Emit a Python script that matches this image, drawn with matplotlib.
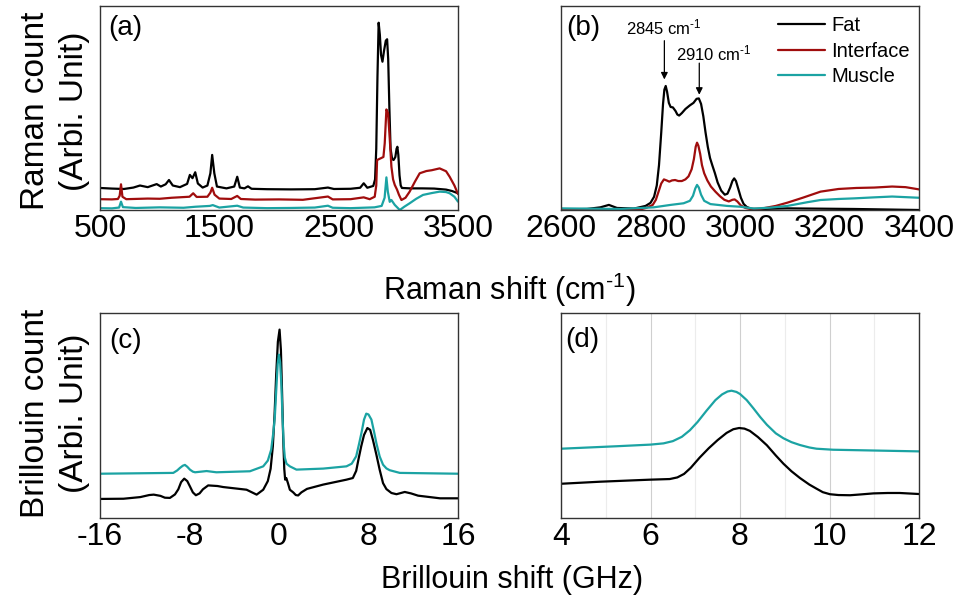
import numpy as np
import matplotlib
matplotlib.use("Agg")
import matplotlib.pyplot as plt

plt.rcParams["font.family"] = ["Liberation Sans", "DejaVu Sans"]
plt.rcParams["mathtext.fontset"] = "custom"
plt.rcParams["mathtext.rm"] = "Liberation Sans"
plt.rcParams["mathtext.it"] = "Liberation Sans"
plt.rcParams["axes.unicode_minus"] = False

# (a) Raman, full range (offset curves)
raman_a_fat_x = [500, 600, 700, 780, 835, 900, 975, 1010, 1050, 1078, 1110, 1170, 1230, 1253, 1275,
                 1298, 1320, 1360, 1400, 1425, 1440, 1458, 1480, 1560, 1625, 1650, 1672, 1710, 1740,
                 1770, 1900, 2100, 2300, 2410, 2460, 2600, 2680, 2710, 2740, 2790, 2805, 2815, 2825,
                 2835, 2845, 2855, 2867, 2880, 2895, 2906, 2915, 2925, 2935, 2948, 2960, 2975, 2985,
                 2992, 3000, 3010, 3020, 3030, 3100, 3200, 3300, 3400, 3450, 3500]
raman_a_fat_y = [10.8, 10.5, 10.3, 11.0, 12.0, 11.2, 12.7, 11.5, 12.6, 14.7, 12.0, 11.2, 12.8, 17.2, 15.6,
                 18.5, 13.0, 11.0, 12.0, 18.0, 27.0, 18.0, 11.5, 10.6, 11.5, 16.3, 11.0, 10.6, 11.6,
                 10.4, 10.2, 10.1, 10.2, 11.0, 10.3, 10.4, 10.9, 13.1, 10.9, 11.8, 15.0, 30.0, 65.0,
                 91.8, 86.0, 76.0, 72.7, 78.0, 83.0, 83.7, 74.0, 50.0, 30.0, 25.0, 24.5, 26.0, 30.0,
                 31.0, 27.0, 17.0, 12.0, 10.8, 10.6, 10.6, 10.5, 10.0, 9.3, 8.2]

raman_a_int_x = [500, 600, 650, 665, 676, 688, 720, 900, 1000, 1100, 1250, 1281, 1310, 1400, 1425, 1440,
                 1460, 1500, 1600, 1650, 1680, 1800, 2000, 2200, 2410, 2450, 2600, 2710, 2760, 2802,
                 2815, 2822, 2840, 2858, 2875, 2886, 2900, 2914, 2928, 2942, 2956, 2970, 2989, 3005,
                 3026, 3060, 3095, 3140, 3179, 3235, 3280, 3346, 3400, 3430, 3470, 3500]
raman_a_int_y = [5.3, 5.2, 5.4, 7.0, 12.6, 6.5, 5.3, 5.6, 5.5, 6.0, 6.5, 8.2, 6.4, 6.5, 8.5, 10.9,
                 7.5, 5.6, 5.4, 6.9, 5.4, 5.1, 5.2, 5.0, 6.6, 5.2, 5.3, 6.2, 5.3, 6.5,
                 12.0, 24.5, 25.0, 25.5, 26.0, 32.7, 49.3, 47.4, 35.0, 21.2, 15.0, 12.3, 10.0, 7.5,
                 4.9, 6.0, 9.0, 14.0, 18.0, 19.1, 19.5, 20.4, 19.0, 16.3, 12.0, 7.8]

raman_a_mus_x = [500, 600, 660, 676, 692, 800, 1000, 1200, 1300, 1420, 1445, 1500, 1650, 1700, 1900,
                 2100, 2300, 2410, 2450, 2600, 2800, 2860, 2885, 2900, 2912, 2928, 2942, 2970, 3012,
                 3050, 3095, 3150, 3207, 3280, 3346, 3400, 3430, 3470, 3500]
raman_a_mus_y = [0.9, 0.8, 1.2, 4.1, 1.4, 1.0, 1.3, 1.1, 1.6, 2.0, 2.4, 1.2, 2.1, 1.2, 0.9,
                 1.0, 1.2, 2.1, 1.1, 0.9, 1.3, 2.0, 6.0, 16.0, 9.0, 4.0, 4.9, 2.5, 0.0,
                 1.6, 3.3, 5.5, 7.4, 8.3, 9.0, 8.8, 8.2, 6.5, 4.1]

# (b) Raman, CH stretching region
raman_b_fat_x = [2600, 2658, 2688, 2707, 2725, 2763, 2789, 2800, 2808, 2814, 2819, 2824, 2828, 2831,
                 2834, 2837, 2841, 2845, 2850, 2856, 2860, 2864, 2870, 2878, 2888, 2896, 2903, 2908,
                 2913, 2918, 2923, 2928, 2933, 2938, 2944, 2950, 2958, 2966, 2972, 2978, 2983, 2987,
                 2991, 2996, 3002, 3008, 3015, 3025, 3040, 3106, 3255, 3400]
raman_b_fat_y = [0.3, 0.5, 1.3, 2.5, 1.0, 0.7, 2.0, 3.5, 6.5, 12.0, 22.0, 38.0, 52.0, 59.0,
                 60.8, 58.0, 52.5, 50.5, 50.3, 48.5, 46.8, 46.3, 47.5, 49.5, 51.3, 52.5, 54.5, 54.7,
                 52.0, 46.0, 38.0, 31.0, 25.5, 22.0, 18.0, 13.5, 9.5, 7.5, 8.0, 11.0, 14.2, 15.5,
                 14.2, 10.5, 6.0, 3.0, 1.5, 0.6, 0.5, 0.8, 0.5, 0.0]

raman_b_int_x = [2600, 2777, 2790, 2805, 2812, 2818, 2824, 2830, 2836, 2842, 2848, 2855, 2862, 2870,
                 2878, 2885, 2892, 2897, 2901, 2904, 2907, 2911, 2915, 2920, 2927, 2935, 2945, 2955,
                 2965, 2975, 2983, 2988, 2994, 3002, 3012, 3025, 3046, 3080, 3106, 3140, 3180, 3220,
                 3260, 3300, 3340, 3370, 3400]
raman_b_int_y = [0.0, 0.3, 1.0, 2.5, 5.0, 9.0, 13.0, 15.0, 14.5, 13.9, 14.5, 14.7, 14.2, 14.2,
                 15.0, 16.5, 20.0, 25.0, 31.0, 33.0, 31.5, 27.5, 22.0, 18.0, 14.5, 11.5, 9.0, 6.8,
                 5.0, 4.2, 5.0, 5.2, 4.2, 2.2, 1.0, 0.4, 0.6, 2.0, 3.6, 6.0, 9.0, 10.3,
                 10.8, 11.0, 11.5, 11.2, 10.1]

raman_b_mus_x = [2600, 2733, 2807, 2845, 2874, 2888, 2895, 2900, 2904, 2908, 2913, 2920, 2934, 2971,
                 3001, 3031, 3070, 3106, 3150, 3180, 3220, 3255, 3300, 3340, 3400]
raman_b_mus_y = [0.8, 0.5, 1.3, 2.5, 3.3, 4.5, 7.0, 10.5, 12.3, 11.0, 7.5, 4.5, 2.9, 2.0,
                 1.6, 0.7, 1.2, 2.0, 3.8, 4.9, 5.4, 5.7, 6.2, 6.6, 6.0]

# (c) Brillouin, full range
bril_c_fat_x = [-16, -13.9, -12.4, -11.6, -11.2, -10.6, -10.2, -9.75, -9.3, -9.0, -8.75, -8.47, -8.2,
                -7.96, -7.7, -7.43, -7.1, -6.8, -6.33, -5.5, -4.99, -2.9, -2.0, -1.41, -1.0, -0.75,
                -0.55, -0.4, -0.25, -0.1, 0.05, 0.17, 0.27, 0.37, 0.47, 0.55, 0.65, 0.8, 0.97, 1.27,
                1.5, 1.71, 2.0, 2.5, 3.95, 6.03, 6.6, 6.9, 7.1, 7.35, 7.6, 7.9, 8.15, 8.4, 8.7, 9.0,
                9.3, 9.6, 10.05, 10.5, 11.24, 11.8, 12.43, 14.4, 16]
bril_c_fat_y = [9.3, 9.4, 10.2, 11.2, 11.4, 10.8, 9.9, 9.8, 11.5, 14.0, 17.5, 19.2, 18.0,
                15.4, 12.5, 11.1, 12.0, 14.0, 15.9, 15.6, 15.1, 13.8, 11.4, 13.8, 18.0, 24.0,
                35.0, 50.0, 70.0, 86.0, 91.9, 82.0, 62.0, 40.0, 24.0, 18.7, 19.5, 17.0, 13.8, 12.5,
                11.2, 11.0, 12.5, 14.2, 16.3, 18.7, 19.5, 23.0, 28.5, 35.0, 40.5, 43.9, 43.0, 38.0,
                31.0, 23.5, 17.0, 14.1, 12.2, 11.6, 12.7, 12.0, 10.9, 9.6, 9.6]

bril_c_mus_x = [-16, -9.45, -9.1, -8.86, -8.6, -8.41, -8.2, -7.96, -7.7, -7.5, -6.47, -5.6, -2.6,
                -1.41, -1.0, -0.7, -0.5, -0.37, -0.25, -0.12, -0.01, 0.1, 0.22, 0.31, 0.42, 0.52,
                0.67, 0.97, 1.56, 3.95, 6.03, 6.5, 6.9, 7.15, 7.37, 7.6, 7.8, 8.0, 8.26, 8.5, 8.7,
                9.0, 9.3, 9.6, 9.9, 10.8, 16]
bril_c_mus_y = [21.6, 22.0, 23.2, 24.4, 25.5, 25.9, 25.0, 23.6, 22.6, 22.3, 22.9, 22.3, 22.8,
                25.2, 28.0, 33.3, 42.0, 49.6, 62.0, 75.0, 79.7, 76.0, 64.0, 49.6, 36.0, 29.5,
                26.5, 25.2, 23.6, 24.1, 25.2, 26.5, 30.1, 36.0, 41.5, 48.0, 50.9, 50.5, 48.0, 42.0, 36.6,
                30.0, 26.0, 24.2, 23.3, 22.0, 21.6]

# (d) Brillouin, zoom on the 8 GHz peak
bril_d_fat_x = [4.0, 4.87, 5.99, 6.43, 6.6, 6.75, 6.9, 7.1, 7.3, 7.5, 7.7, 7.85, 7.98, 8.1, 8.22,
                8.4, 8.6, 8.8, 8.97, 9.15, 9.34, 9.55, 9.71, 9.85, 10.01, 10.2, 10.46, 10.7, 10.98,
                11.3, 11.57, 12.0]
bril_d_fat_y = [16.7, 17.7, 18.7, 19.0, 19.8, 21.5, 24.5, 29.5, 34.0, 38.0, 41.5, 43.3, 43.9, 43.6, 42.5,
                39.5, 35.5, 30.5, 26.5, 22.8, 19.5, 16.3, 14.3, 12.6, 11.6, 11.2, 11.1, 11.5, 12.0,
                12.2, 12.2, 11.7]

bril_d_mus_x = [4.0, 5.24, 6.0, 6.29, 6.5, 6.7, 6.88, 7.05, 7.25, 7.45, 7.6, 7.72, 7.81, 7.92, 8.0,
                8.15, 8.3, 8.45, 8.6, 8.8, 8.97, 9.15, 9.34, 9.55, 9.71, 10.08, 12.0]
bril_d_mus_y = [33.8, 35.0, 35.8, 36.4, 37.5, 39.6, 42.8, 46.8, 52.3, 57.5, 60.3, 61.7, 62.1, 61.5, 60.5,
                57.5, 53.5, 49.3, 45.5, 41.3, 38.9, 37.0, 35.6, 34.4, 33.8, 33.3, 32.5]

c_fat = "black"
c_int = "#a00d0d"
c_mus = "#1ba3a3"
lw = 1.6
line_kw = dict(lw=lw, solid_joinstyle="round", solid_capstyle="round")

fig = plt.figure(figsize=(9.6, 5.98), dpi=100)
W, H = 960, 598

def make_axes(x0, y0, x1, y1):
    return fig.add_axes([x0 / W, 1 - y1 / H, (x1 - x0) / W, (y1 - y0) / H])

ax_a = make_axes(100, 6, 458, 210)
ax_b = make_axes(561, 6, 919, 210)
ax_c = make_axes(100, 313, 458, 518)
ax_d = make_axes(561, 313, 919, 518)

ax_a.plot(raman_a_fat_x, raman_a_fat_y, color=c_fat, **line_kw)
ax_a.plot(raman_a_int_x, raman_a_int_y, color=c_int, **line_kw)
ax_a.plot(raman_a_mus_x, raman_a_mus_y, color=c_mus, **line_kw)
ax_a.set_xlim(500, 3500)
ax_a.set_xticks([500, 1500, 2500, 3500])

ax_b.plot(raman_b_fat_x, raman_b_fat_y, color=c_fat, label="Fat", **line_kw)
ax_b.plot(raman_b_int_x, raman_b_int_y, color=c_int, label="Interface", **line_kw)
ax_b.plot(raman_b_mus_x, raman_b_mus_y, color=c_mus, label="Muscle", **line_kw)
ax_b.set_xlim(2600, 3400)
ax_b.set_xticks([2600, 2800, 3000, 3200, 3400])

arrow_kw = dict(arrowstyle="-|>", color="black", lw=0.9, mutation_scale=10, shrinkA=0, shrinkB=0)
ax_b.annotate("", xy=(2831, 64.0), xytext=(2831, 83.0), arrowprops=arrow_kw)
ax_b.annotate("", xy=(2909, 56.5), xytext=(2909, 72.0), arrowprops=arrow_kw)
ax_b.text(2830, 89.5, r"2845 cm$^{\text{-1}}$", ha="center", va="center", fontsize=12)
ax_b.text(2942, 76.5, r"2910 cm$^{\text{-1}}$", ha="center", va="center", fontsize=12)

leg = ax_b.legend(loc="upper left", bbox_to_anchor=(0.606, 0.95), frameon=False,
                  fontsize=14.5, handlelength=2.35, handletextpad=0.3, labelspacing=0.33,
                  borderpad=0, borderaxespad=0)

ax_c.plot(bril_c_fat_x, bril_c_fat_y, color=c_fat, **line_kw)
ax_c.plot(bril_c_mus_x, bril_c_mus_y, color=c_mus, **line_kw)
ax_c.set_xlim(-16, 16)
ax_c.set_xticks([-16, -8, 0, 8, 16])

ax_d.set_xlim(4, 12)
ax_d.set_xticks([4, 6, 8, 10, 12])
ax_d.set_xticks([5, 7, 9, 11], minor=True)
ax_d.grid(True, which="major", axis="x", color="#cfcfcf", lw=0.8)
ax_d.grid(True, which="minor", axis="x", color="#ececec", lw=0.8)
ax_d.set_axisbelow(True)
ax_d.plot(bril_d_fat_x, bril_d_fat_y, color=c_fat, **line_kw)
ax_d.plot(bril_d_mus_x, bril_d_mus_y, color=c_mus, **line_kw)

for ax, lab, dx, dy in [(ax_a, "(a)", 0.022, 0.955), (ax_b, "(b)", 0.015, 0.955),
                        (ax_c, "(c)", 0.025, 0.925), (ax_d, "(d)", 0.012, 0.93)]:
    ax.set_ylim(0, 100)
    ax.set_yticks([])
    ax.tick_params(axis="x", which="both", length=0, labelsize=23, pad=3)
    for s in ax.spines.values():
        s.set_color("#333333")
        s.set_linewidth(1.0)
    ax.text(dx, dy, lab, transform=ax.transAxes, fontsize=20, ha="left", va="top")

fig.text(55 / W, 1 - 111 / H, "Raman count\n(Arbi. Unit)", fontsize=24, rotation=90,
         ha="center", va="center", multialignment="center", linespacing=1.35)
fig.text(55 / W, 1 - 413 / H, "Brillouin count\n(Arbi. Unit)", fontsize=24, rotation=90,
         ha="center", va="center", multialignment="center", linespacing=1.35)

fig.text(509 / W, 1 - 300 / H, r"Raman shift (cm$^{\text{-1}}$)", fontsize=22, ha="center", va="baseline")
fig.text(512 / W, 1 - 588 / H, "Brillouin shift (GHz)", fontsize=22, ha="center", va="baseline")

fig.savefig("out.png", dpi=100)
